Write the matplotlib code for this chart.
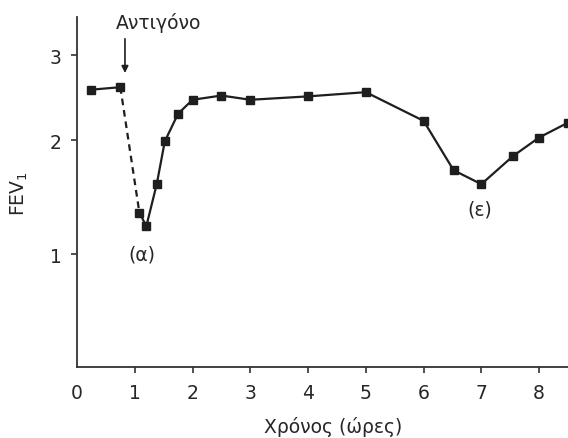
import numpy as np
import matplotlib
matplotlib.use("Agg")
import matplotlib.pyplot as plt

plt.rcParams['font.family'] = ['DejaVu Sans']

# χρόνος (ώρες) και FEV1
hours = [0.25, 0.75, 1.08, 1.2, 1.38, 1.52, 1.75, 2.0, 2.5, 3.0, 4.0, 5.0, 6.0, 6.52, 7.0, 7.55, 8.0, 8.5]
fev1 = [2.57, 2.60, 1.32, 1.21, 1.57, 1.99, 2.29, 2.45, 2.50, 2.45, 2.49, 2.54, 2.21, 1.70, 1.57, 1.84, 2.03, 2.19]
x_ticks = [0, 1, 2, 3, 4, 5, 6, 7, 8]
y_ticks = [1, 2, 3]

p = 0.45
def fwd(v):
    return np.sign(v) * np.abs(v) ** p
def inv(v):
    return np.sign(v) * np.abs(v) ** (1 / p)

fig = plt.figure(figsize=(5.68, 4.39), dpi=100)
ax = fig.add_axes([0.1356, 0.161, 0.8644, 0.797])
ax.set_yscale('function', functions=(fwd, inv))

c = '#1e1e1e'
tc = '#262626'
fs = 13.5
# πριν το αντιγόνο
ax.plot(hours[:2], fev1[:2], '-', color=c, lw=1.6)
# διακεκομμένη πτώση
ax.plot(hours[1:3], fev1[1:3], '--', color=c, lw=1.6, dashes=(3, 2.2))
ax.plot(hours[2:], fev1[2:], '-', color=c, lw=1.6)
ax.plot(hours, fev1, 's', color=c, ms=6, clip_on=False)

ax.set_xlim(0, 8.5)
ax.set_ylim(0.365, 3.52)
ax.set_xticks(x_ticks)
ax.set_yticks(y_ticks)
ax.set_xticklabels([str(t) for t in x_ticks])
ax.set_yticklabels([str(t) for t in y_ticks])

for s in ['top', 'right']:
    ax.spines[s].set_visible(False)
for s in ['left', 'bottom']:
    ax.spines[s].set_linewidth(1.3)
    ax.spines[s].set_color('#333333')
ax.tick_params(direction='out', length=4, width=1.2, colors='#333333',
               labelsize=fs, labelcolor=tc, pad=7)
ax.xaxis.get_major_ticks()[0].tick1line.set_visible(False)

ax.set_xlabel('Χρόνος (ώρες)', fontsize=fs, color=tc, va='center')
ax.xaxis.set_label_coords(0.521, -0.168)
ax.set_ylabel('FEV$_1$', fontsize=fs, color=tc, labelpad=14)

ax.annotate('', xy=(0.83, 2.74), xytext=(0.83, 3.26),
            arrowprops=dict(arrowstyle='-|>', color=c, lw=1.2, mutation_scale=10),
            annotation_clip=False)
ax.text(1.42, 3.46, 'Αντιγόνο', fontsize=fs, color=tc, ha='center', va='center')
ax.text(1.12, 1.0, '(α)', fontsize=fs, color=tc, ha='center', va='center')
ax.text(6.97, 1.35, '(ε)', fontsize=fs, color=tc, ha='center', va='center')

fig.savefig('out.png', dpi=100)
